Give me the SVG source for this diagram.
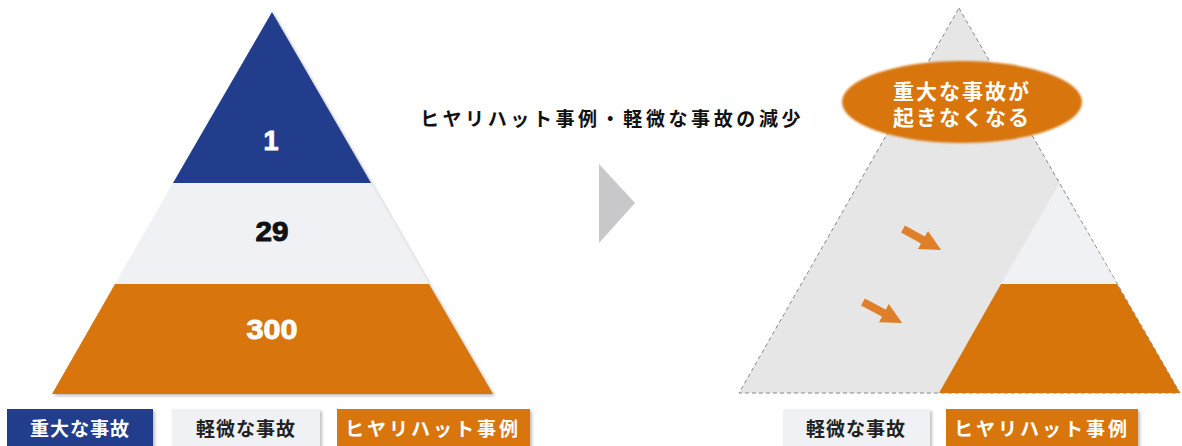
<svg xmlns="http://www.w3.org/2000/svg" width="1182" height="446" viewBox="0 0 1182 446">
<defs>
<style>
.num{font-family:"Liberation Sans",Arial,sans-serif;font-weight:bold;font-size:27px;text-anchor:middle;stroke-width:0.9px}
.jp{font-family:"Noto Sans CJK JP","Noto Sans CJK SC",sans-serif;font-weight:bold;text-anchor:middle}
.lg{font-size:19px;letter-spacing:1px}
.blue{fill:#203c8c}
.light{fill:#eff1f4}
.orange{fill:#d8750a}
</style>
<filter id="sh" x="-10%" y="-10%" width="130%" height="140%">
<feDropShadow dx="2" dy="2" stdDeviation="1.5" flood-color="#000" flood-opacity="0.25"/>
</filter>
<filter id="soft" x="-10%" y="-20%" width="120%" height="140%">
<feGaussianBlur stdDeviation="1"/>
</filter>
<marker id="ah" viewBox="0 0 10 10" refX="5" refY="5" markerWidth="2.6" markerHeight="2.6" orient="auto">
<path d="M0,0 L10,5 L0,10 z" fill="#e07f2a"/>
</marker>
</defs>
<rect width="1182" height="446" fill="#fff"/>

<g id="left-pyramid" filter="url(#sh)">
<polygon class="blue" points="272,12 371,183 173,183"/>
<polygon class="light" points="173,183 371,183 429,284 115,284"/>
<polygon class="orange" points="115,284 429,284 493,394 52,394"/>
</g>
<g id="left-numbers">
<text class="num" x="271" y="150" fill="#fff" stroke="#fff">1</text>
<text class="num" x="272" y="241" fill="#111" stroke="#111" textLength="33" lengthAdjust="spacingAndGlyphs">29</text>
<text class="num" x="272" y="339" fill="#fff" stroke="#fff" textLength="51" lengthAdjust="spacingAndGlyphs">300</text>
</g>

<g id="legend-left">
<g id="lg-serious" filter="url(#sh)"><rect class="blue" x="7" y="409" width="146" height="40"/></g>
<text class="jp lg" x="80" y="436" fill="#fff">重大な事故</text>
<g id="lg-minor" filter="url(#sh)"><rect class="light" x="172" y="409" width="148" height="40"/></g>
<text class="jp lg" x="246" y="436" fill="#222">軽微な事故</text>
<g id="lg-near" filter="url(#sh)"><rect class="orange" x="337" y="409" width="193" height="40"/></g>
<text class="jp lg" x="433" y="436" fill="#fff" style="letter-spacing:3px">ヒヤリハット事例</text>
</g>

<g id="header">
<text class="jp" x="612" y="126" font-size="19" fill="#111" style="letter-spacing:3.6px">ヒヤリハット事例・軽微な事故の減少</text>
</g>

<g id="transition-arrow">
<polygon points="599,164 635,203 599,243" fill="#c8c8ca"/>
</g>

<g id="right-pyramid">
<polygon points="959,8 1180,393 739,393" fill="#e6e6e6" stroke="#888" stroke-width="1" stroke-dasharray="4,3"/>
<polygon class="light" points="1059,184 1117,284 1001,284"/>
<polygon class="orange" points="1001,284 1117,284 1180,393 939,393"/>
</g>

<g id="connectors" stroke="#e07f2a" stroke-width="8" fill="none">
<line x1="903" y1="229" x2="932" y2="245" marker-end="url(#ah)"/>
<line x1="863" y1="302" x2="893" y2="318" marker-end="url(#ah)"/>
</g>

<g id="callout">
<ellipse cx="962" cy="102" rx="120" ry="41" class="orange" filter="url(#soft)"/>
<text class="jp" x="962" y="99" font-size="21" fill="#fff" style="letter-spacing:2px">重大な事故が</text>
<text class="jp" x="962" y="125" font-size="21" fill="#fff" style="letter-spacing:2px">起きなくなる</text>
</g>

<g id="legend-right">
<g id="lg-minor-r" filter="url(#sh)"><rect class="light" x="783" y="409" width="147" height="40"/></g>
<text class="jp lg" x="856" y="436" fill="#222">軽微な事故</text>
<g id="lg-near-r" filter="url(#sh)"><rect class="orange" x="946" y="409" width="192" height="40"/></g>
<text class="jp lg" x="1042" y="436" fill="#fff" style="letter-spacing:3px">ヒヤリハット事例</text>
</g>
</svg>
